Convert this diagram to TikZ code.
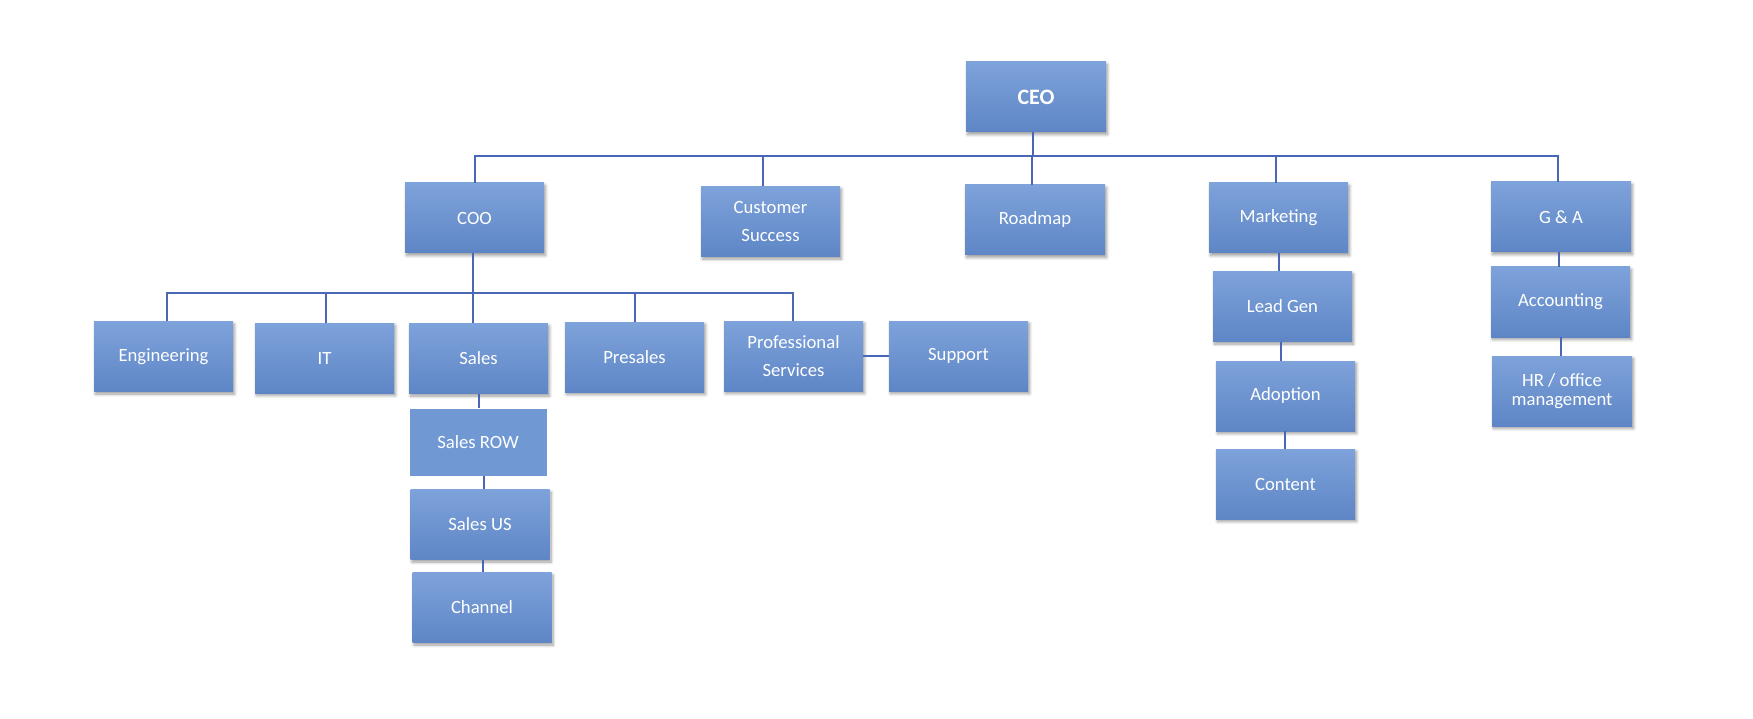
\documentclass[tikz,border=0pt]{standalone}
\usepackage{fontspec}
\setmainfont{Carlito}
\usetikzlibrary{shadows.blur}
\definecolor{boxtop}{HTML}{7EA2DA}
\definecolor{boxbot}{HTML}{5E86C6}
\definecolor{flatbox}{HTML}{7099D3}
\definecolor{linec}{HTML}{4A67B5}
\tikzset{
  box/.style={rectangle, minimum width=139pt, minimum height=70pt, inner sep=2pt,
    top color=boxtop, bottom color=boxbot, text=white, align=center,
    font=\fontsize{18.7}{28}\selectfont,
    blur shadow={shadow xshift=1.5pt, shadow yshift=-2.5pt, shadow blur radius=3pt, shadow blur steps=6, shadow opacity=40}},
  flatboxstyle/.style={rectangle, minimum width=137pt, minimum height=67pt, inner sep=2pt,
    fill=flatbox, text=white, align=center, font=\fontsize{18.7}{28}\selectfont},
  conn/.style={draw=linec, line width=2pt}
}
\begin{document}
\begin{tikzpicture}[x=1pt,y=-1pt]
\useasboundingbox (0,0) rectangle (1753,719);
% level 1
\node[box, minimum width=140pt, font=\fontsize{22}{26}\selectfont\bfseries] (ceo) at (1036,97) {CEO};
% level 2
\node[box] (coo) at (474.5,218) {COO};
\node[box] (cs) at (770.5,221.5) {Customer\\Success};
\node[box, minimum width=140pt] (road) at (1035,220) {Roadmap};
\node[box] (mkt) at (1278.5,218) {Marketing};
\node[box, minimum width=140pt] (ga) at (1561,217) {G \& A};
% level 3 (COO)
\node[box] (eng) at (163.5,356.5) {Engineering};
\node[box] (it) at (324.5,358) {IT};
\node[box] (sales) at (478.5,358.5) {Sales};
\node[box] (pre) at (634.5,357) {Presales};
\node[box] (ps) at (793.5,356) {Professional\\Services};
\node[box] (sup) at (958.5,356) {Support};
% sales chain
\node[flatboxstyle] (srow) at (478,442) {Sales ROW};
\node[box] (sus) at (480,524.5) {Sales US};
\node[box] (chan) at (482,607.5) {Channel};
% marketing chain
\node[box] (lead) at (1282.5,306.5) {Lead Gen};
\node[box] (adop) at (1285.5,396) {Adoption};
\node[box] (cont) at (1285.5,484) {Content};
% G&A chain
\node[box] (acc) at (1560.5,302) {Accounting};
\node[box, minimum width=140pt, font=\fontsize{18.7}{19.5}\selectfont] (hr) at (1562,391) {HR / office\\management};
% buses
\coordinate (bus1) at (0,156);
\coordinate (bus2) at (0,293.5);
% connectors level 1
\draw[conn] ([xshift=-3pt]ceo.south) -- ([xshift=-3pt]ceo.south |- bus1);
\draw[conn] (coo.north) |- ([xshift=-3pt]ga.north |- bus1) -- ([xshift=-3pt]ga.north);
\draw[conn] ([xshift=-8pt]cs.north) -- ([xshift=-8pt]cs.north |- bus1);
\draw[conn] ([xshift=-3pt]road.north) -- ([xshift=-3pt]road.north |- bus1);
\draw[conn] ([xshift=-2.5pt]mkt.north) -- ([xshift=-2.5pt]mkt.north |- bus1);
% connectors level 2 (COO)
\draw[conn] ([xshift=-1.5pt]coo.south) -- ([xshift=-1.5pt]coo.south |- sales.north);
\draw[conn] ([xshift=3pt]eng.north) |- ([xshift=-1pt]ps.north |- bus2) -- ([xshift=-1pt]ps.north);
\draw[conn] ([xshift=1.5pt]it.north) -- ([xshift=1.5pt]it.north |- bus2);
\draw[conn] (pre.north) -- (pre.north |- bus2);
\draw[conn] (ps.east) -- (ps.east -| sup.west);
% sales chain
\draw[conn] (sales.south) -- (sales.south |- srow.north);
\draw[conn] ([xshift=6pt]srow.south) -- ([xshift=6pt]srow.south |- sus.north);
\draw[conn] ([xshift=3pt]sus.south) -- ([xshift=3pt]sus.south |- chan.north);
% marketing chain
\draw[conn] (mkt.south) -- (mkt.south |- lead.north);
\draw[conn] ([xshift=-2pt]lead.south) -- ([xshift=-2pt]lead.south |- adop.north);
\draw[conn] ([xshift=-1pt]adop.south) -- ([xshift=-1pt]adop.south |- cont.north);
% G&A chain
\draw[conn] ([xshift=-2pt]ga.south) -- ([xshift=-2pt]ga.south |- acc.north);
\draw[conn] (acc.south) -- (acc.south |- hr.north);
\end{tikzpicture}
\end{document}
